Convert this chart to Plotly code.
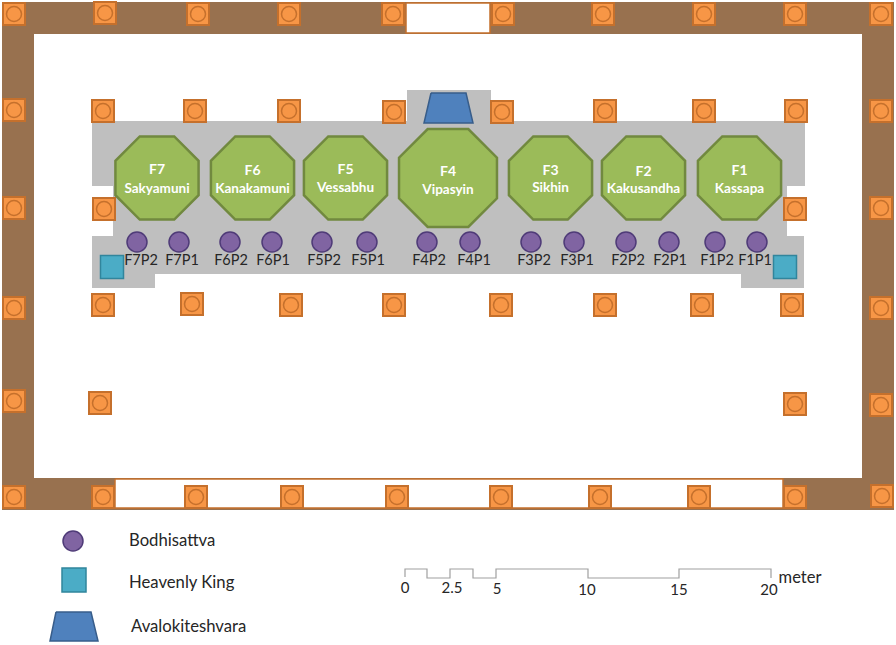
import plotly.graph_objects as go

# Plan geometry, in plan units
wall_outer_x = [2, 894, 894, 2, 2]
wall_outer_y = [2, 2, 510, 510, 2]
wall_inner_x = [34, 862, 862, 34, 34]
wall_inner_y = [34, 34, 478, 478, 34]
door_top_x = [406, 490, 490, 406, 406]
door_top_y = [3, 3, 33, 33, 3]
door_bottom_x = [115, 783, 783, 115, 115]
door_bottom_y = [479, 479, 508, 508, 479]
altar_x = [92, 407, 407, 491, 491, 805, 805, 787, 787, 804, 804, 741, 741, 155, 155, 92, 92, 113, 113, 92, 92]
altar_y = [121, 121, 90, 90, 121, 121, 186, 186, 236, 236, 288, 288, 274, 274, 288, 288, 236, 236, 186, 186, 121]

column_x = [14, 105, 198, 289, 393, 503, 603, 704, 795, 881,
            14, 14, 14, 14, 881, 881, 881, 881,
            103, 195, 289, 394, 502, 605, 704, 796,
            104, 795,
            103, 192, 291, 394, 501, 605, 702, 792,
            100, 795,
            14, 103, 196, 292, 397, 501, 600, 699, 795, 882]
column_y = [14, 13, 14, 14, 14, 14, 14, 14, 14, 14,
            110, 208, 308, 401, 111, 208, 308, 405,
            111, 111, 111, 112, 112, 111, 111, 111,
            209, 209,
            305, 304, 305, 305, 305, 305, 305, 305,
            403, 404,
            497, 497, 497, 497, 497, 497, 497, 497, 497, 496]

buddha_ids = ["F7", "F6", "F5", "F4", "F3", "F2", "F1"]
buddha_names = ["Sakyamuni", "Kanakamuni", "Vessabhu", "Vipasyin", "Sikhin", "Kakusandha", "Kassapa"]
buddha_x = [157, 252.5, 345.5, 448, 550.5, 643.5, 739.5]
buddha_y = [178, 178, 178, 178, 178, 178, 178]
buddha_width = [90, 90, 90, 106, 90, 90, 90]
buddha_id_y = [170, 171, 170, 172, 171, 172, 171]
buddha_name_y = [190, 190, 189, 191, 189, 190, 190]

bodhi_labels = ["F7P2", "F7P1", "F6P2", "F6P1", "F5P2", "F5P1", "F4P2",
                "F4P1", "F3P2", "F3P1", "F2P2", "F2P1", "F1P2", "F1P1"]
bodhi_x = [137, 179, 230, 272, 322, 367, 427, 470, 531, 574, 626, 669, 715, 757]
bodhi_y = [242] * 14
bodhi_label_x = [141, 182, 231, 273, 324, 368, 429, 474, 534, 577, 628, 670, 717, 755]
bodhi_label_y = [261] * 14

king_x = [112, 785]
king_y = [267, 267]

avalo_x = [431, 466, 473, 424, 431]
avalo_y = [93, 93, 123, 123, 93]

legend_labels = ["Bodhisattva", "Heavenly King", "Avalokiteshvara"]
legend_label_x = [129, 129, 131]
legend_label_y = [542, 584, 628]
legend_circle_x, legend_circle_y = [73], [541]
legend_square_x, legend_square_y = [74], [580]
legend_trap_x = [56, 91, 98, 50, 56]
legend_trap_y = [612, 612, 641, 641, 612]

scale_x = [405, 405, 427, 427, 450, 450, 473, 473, 496, 496, 588, 588, 679, 679, 771, 771]
scale_y = [577, 569, 569, 578, 578, 569, 569, 578, 578, 569, 569, 578, 578, 569, 569, 578]
scale_labels = ["0", "2.5", "5", "10", "15", "20"]
scale_label_x = [405, 452, 497, 587, 679, 769]
scale_label_y = [589, 589, 590, 591, 591, 591]
unit_label, unit_x, unit_y = ["meter"], [800], [579]

FONT = "Lato"
ORANGE_LINE = "#c5702c"
fig = go.Figure()


def poly(x, y, fill, line=None, width=0):
    fig.add_trace(go.Scatter(x=x, y=y, mode="lines", fill="toself", fillcolor=fill,
                             line=dict(color=line or fill, width=width)))


def markers(x, y, symbol, size, fill, line, width):
    fig.add_trace(go.Scatter(x=x, y=y, mode="markers",
                             marker=dict(symbol=symbol, size=size, color=fill, opacity=1,
                                         line=dict(color=line, width=width))))


def labels(x, y, text, size, color, pos="middle center", weight="normal"):
    fig.add_trace(go.Scatter(x=x, y=y, mode="text", text=text, textposition=pos,
                             textfont=dict(family=FONT, size=size, color=color, weight=weight)))


poly(wall_outer_x, wall_outer_y, "#98714f")
poly(wall_inner_x, wall_inner_y, "#ffffff")
poly(door_top_x, door_top_y, "#ffffff", ORANGE_LINE, 1.5)
poly(door_bottom_x, door_bottom_y, "#ffffff", ORANGE_LINE, 1.5)
poly(altar_x, altar_y, "#bfbfbf")
markers(column_x, column_y, "square", 22, "#f79646", ORANGE_LINE, 2)
markers(column_x, column_y, "circle-open", 15, ORANGE_LINE, ORANGE_LINE, 1.5)
markers(buddha_x, buddha_y, "octagon", buddha_width, "#9bbb59", "#71893f", 2.5)
labels(buddha_x, buddha_id_y, buddha_ids, 14, "#ffffff", weight="bold")
labels(buddha_x, buddha_name_y, buddha_names, 13.5, "#ffffff", weight="bold")
markers(bodhi_x, bodhi_y, "circle", 20, "#8064a2", "#4f3b78", 1.5)
labels(bodhi_label_x, bodhi_label_y, bodhi_labels, 14.5, "#262626")
markers(king_x, king_y, "square", 23, "#4bacc6", "#31859c", 1.5)
poly(avalo_x, avalo_y, "#4f81bd", "#385d8a", 1.5)
markers(legend_circle_x, legend_circle_y, "circle", 20, "#8064a2", "#4f3b78", 1.5)
markers(legend_square_x, legend_square_y, "square", 24, "#4bacc6", "#31859c", 1.5)
poly(legend_trap_x, legend_trap_y, "#4f81bd", "#385d8a", 1.5)
labels(legend_label_x, legend_label_y, legend_labels, 16.7, "#262626", pos="middle right")
fig.add_trace(go.Scatter(x=scale_x, y=scale_y, mode="lines", line=dict(color="#a0a0a0", width=1.2)))
labels(scale_label_x, scale_label_y, scale_labels, 15, "#262626")
labels(unit_x, unit_y, unit_label, 16.5, "#262626")

fig.update_layout(
    width=896, height=645, margin=dict(l=0, r=0, t=0, b=0),
    paper_bgcolor="#ffffff", plot_bgcolor="#ffffff", showlegend=False, hovermode=False,
    xaxis=dict(range=[0, 896], visible=False, fixedrange=True),
    yaxis=dict(range=[645, 0], visible=False, fixedrange=True),
)
fig.write_html("out.html", config={"displayModeBar": False},
               post_script="document.body.style.margin='0';document.body.style.overflow='hidden';")
